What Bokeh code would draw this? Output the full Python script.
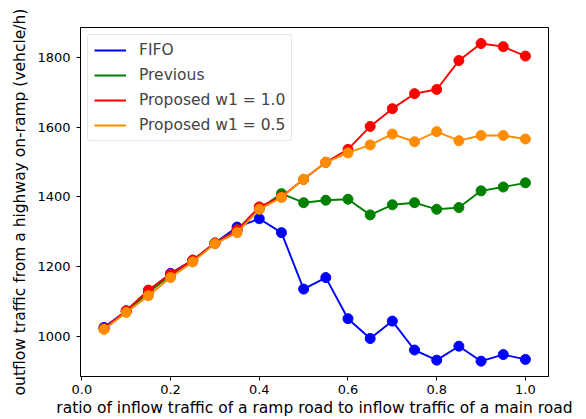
from bokeh.plotting import figure
from bokeh.models import Range1d, FixedTicker, Legend, LegendItem
from bokeh.embed import file_html
from bokeh.resources import INLINE

ratio = [0.05, 0.10, 0.15, 0.20, 0.25, 0.30, 0.35, 0.40, 0.45, 0.50,
         0.55, 0.60, 0.65, 0.70, 0.75, 0.80, 0.85, 0.90, 0.95, 1.00]
fifo = [1025, 1072, 1130, 1180, 1218, 1267, 1313, 1337, 1297, 1135,
        1168, 1050, 993, 1043, 960, 931, 971, 928, 947, 933]
previous = [1022, 1070, 1125, 1175, 1217, 1267, 1305, 1365, 1409, 1383,
            1390, 1393, 1348, 1377, 1383, 1364, 1369, 1417, 1428, 1440]
proposed_w1_10 = [1022, 1073, 1132, 1178, 1218, 1267, 1305, 1371, 1400, 1450,
                  1499, 1536, 1602, 1653, 1696, 1708, 1791, 1840, 1831, 1804]
proposed_w1_05 = [1019, 1068, 1116, 1168, 1213, 1265, 1297, 1364, 1398, 1450,
                  1499, 1526, 1549, 1580, 1558, 1587, 1561, 1576, 1576, 1566]

series = [
    ("FIFO", fifo, "#0000ff"),
    ("Previous", previous, "#008000"),
    ("Proposed w1 = 1.0", proposed_w1_10, "#ff0000"),
    ("Proposed w1 = 0.5", proposed_w1_05, "#ff8c00"),
]
x_ticks = [0.0, 0.2, 0.4, 0.6, 0.8, 1.0]
y_ticks = [1000, 1200, 1400, 1600, 1800]

FONT = "DejaVu Sans"

p = figure(width=586, height=419, output_backend="svg", toolbar_location=None,
           x_range=Range1d(-0.003, 1.052), y_range=Range1d(884, 1886),
           min_border_left=80, min_border_right=38, min_border_top=27,
           min_border_bottom=43)
p.grid.visible = False
p.outline_line_color = "black"
p.outline_line_width = 1
p.background_fill_color = "white"
p.border_fill_color = "white"

items = []
for name, vals, col in series:
    r = p.line(ratio, vals, line_color=col, line_width=1.9)
    p.scatter(ratio, vals, size=10, fill_color=col, line_color=col)
    items.append(LegendItem(label=name, renderers=[r]))

legend = Legend(items=items, location="top_left", margin=7, padding=6,
                glyph_width=32, glyph_height=16, label_height=16, spacing=7,
                label_standoff=13, label_text_font=FONT, label_text_font_size="15.5px",
                border_line_color="#cccccc", border_line_width=1,
                background_fill_alpha=0.8, border_radius=3)
p.add_layout(legend)

for ax in (p.xaxis, p.yaxis):
    ax.axis_line_color = "black"
    ax.major_tick_line_color = "black"
    ax.minor_tick_line_color = None
    ax.major_tick_in = 0
    ax.major_tick_out = 4
    ax.major_label_text_font = FONT
    ax.major_label_text_font_size = "13px"
    ax.major_label_text_color = "black"
    ax.axis_label_text_font = FONT
    ax.axis_label_text_font_size = "15.5px"
    ax.axis_label_text_font_style = "normal"
    ax.axis_label_text_color = "black"

p.xaxis.ticker = FixedTicker(ticks=x_ticks)
p.xaxis.major_label_overrides = {0: "0.0", 1: "1.0"}
p.yaxis.ticker = FixedTicker(ticks=y_ticks)
p.xaxis.axis_label = "ratio of inflow traffic of a ramp road to inflow traffic of a main road"
p.yaxis.axis_label = "outflow traffic from a highway on-ramp (vehcle/h)"
p.xaxis.major_label_standoff = 4
p.xaxis.axis_label_standoff = 2
p.yaxis.major_label_standoff = 6
p.yaxis.axis_label_standoff = 5

open("out.html", "w").write(file_html(p, INLINE))
